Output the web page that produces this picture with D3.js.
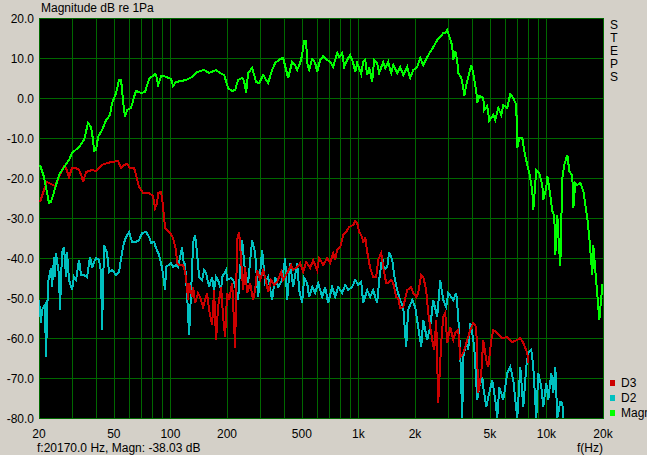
<!DOCTYPE html>
<html>
<head>
<meta charset="utf-8">
<script src="https://cdn.jsdelivr.net/npm/d3@7"></script>
<style>
  body { margin: 0; background: #d4d0c8; }
  svg { display: block; font-family: "Liberation Sans", Arial, sans-serif; font-size: 12px; }
</style>
</head>
<body>
<svg id="svg1" width="647" height="455"></svg>
<script>
var magnFreq = [20.25,21.26,22.61,23.17,24.04,25.56,27.17,28.89,29.97,32.66,34.72,36.46,37.84,38.77,39.25,40.22,41.22,43.29,45.46,47.75,48.93,51.39,53.32,54.64,55.31,56.68,57.38,58.81,61.76,64.07,65.66,69.82,73.32,77.01,82.88,83.9,85.98,89.21,92.54,100.8,103.3,107.2,114,121.2,130.4,138.6,151.1,160.6,175,183.8,193.1,202.8,213,220.9,229.2,240.7,246.6,252.8,259,272.1,285.8,296.5,311.4,331,347.6,360.6,383.5,397.8,412.7,422.9,444.2,460.8,472.3,490,502.1,514.5,527.3,533.8,547.1,567.6,588.8,603.4,626,649.4,682,707.7,734.2,771,790.2,819.8,840.1,871.5,904.2,938,961.3,985.1,1035,1061,1087,1114,1141,1184,1213,1258,1290,1355,1388,1440,1494,1531,1608,1668,1731,1818,1886,1957,2055,2132,2212,2323,2410,2501,2626,2724,2826,2896,2968,3042,3156,3195,3274,3355,3396,3524,3612,3656,3747,3887,3983,4082,4235,4287,4394,4615,4671,4846,4967,5216,5345,5546,5753,5896,6192,6424,6665,6914,6999,7174,7442,7627,7912,8109,8412,8516,8835,9166,9509,9626,9986,10109,10361,10749,11015,11151,11427,11568,11856,12150,12451,12917,13239,13734,13904,14248,14601,15149,15716,16105,16505,16916,17549,17765,18205,18657,19122,19837,20000];
var magnDb = [-16.75,-19.75,-26.25,-26,-23.5,-19.25,-17.25,-15.5,-13.75,-12.25,-10.5,-6.25,-7.25,-10.5,-13.25,-13,-9.75,-8,-5.5,-4.25,-1.25,1.25,4.5,4.5,2,-3,-4.75,-3,-2.5,0.25,1.75,1.25,1.5,4.75,6,5.75,3.25,5.5,5.5,4.75,3,4,4.25,4.5,5.25,6.5,7,6.25,7,6.25,5.75,2.5,1.75,2,4.5,5,4.25,1.25,6.25,7.5,4,3.75,5.75,3.75,7,8.75,9.75,10,7,5,9,8.25,7,8.75,10.75,14.25,14.25,8.75,7,9.75,8.75,6.5,9.5,10.5,9.5,9,7.75,11.25,10.25,11.25,7.75,9.5,10.75,8.75,6.5,8.75,6,9,9.5,5.75,7.75,4,9.5,8.75,6.25,9,7.5,9,6.25,8.25,6.25,7.75,5.75,7.75,5,7,7.75,10,8.25,10.25,11.5,12.75,14.5,15.25,16.25,16.25,17,15.5,13,9.5,11.75,9.5,6.25,5,2.5,0.5,3.25,6.25,8.25,6.25,1.75,-1.25,0.5,0,-3,-2,-5.75,-4.25,-5.5,-2.5,-4.25,-1.75,-2.5,1,0,-1.75,-12.5,-10,-10,-13.25,-16.75,-18.75,-23.25,-28,-18,-18.75,-21.75,-25.5,-22.5,-19.5,-22.5,-28.25,-29.5,-39.25,-29.25,-34.25,-42,-20,-16.75,-14.25,-18.25,-19.5,-27.5,-21.25,-21.75,-21.25,-23.25,-26.75,-30,-35,-44.25,-36.75,-43.25,-49.25,-55.5,-46.75,-46.75];

var d3Freq = [20.25,21.26,22.06,23.17,24.33,27.17,27.85,28.89,29.97,31.48,32.66,33.88,34.3,35.58,38.3,40.22,41.73,43.29,46.02,48.93,52.67,54.64,56.68,58.81,61.01,64.07,65.66,68.13,71.55,77.01,80.88,82.88,84.93,85.98,89.21,90.31,91.42,92.54,93.68,99.61,103.3,107.2,108.5,111.2,116.8,119.7,122.6,124.2,125.7,130.4,132,135.3,140.3,143.8,149.2,156.7,160.6,166.6,170.7,175,179.3,186.1,190.7,195.4,200.3,205.3,213,215.6,220.9,226.4,232,237.8,243.6,249.7,255.9,265.5,275.5,282.3,289.3,300.1,311.4,319.1,331,343.4,356.2,369.6,388.2,397.8,417.8,438.8,449.7,472.3,490,508.3,527.3,553.8,574.6,603.4,618.4,649.4,682,707.7,734.2,752.4,771,799.9,829.9,860.9,893.2,938,961.3,985.1,1010,1048,1061,1087,1114,1155,1198,1243,1274,1322,1355,1405,1440,1494,1531,1588,1628,1668,1731,1818,1909,1957,2030,2080,2158,2212,2294,2351,2410,2470,2531,2594,2658,2758,2826,2896,2968,3079,3195,3274,3396,3481,3612,3793,3935,4082,4235,4340,4503,4615,4787,4906,5090,5216,5478,5824,6192,6583,6999,7262,7534,7912,8010];
var d3Db = [-26,-23,-21,-21.5,-22,-17,-17.5,-19.75,-17.5,-17.5,-18,-19.75,-21,-18.5,-18,-18.25,-17.5,-16.75,-16.25,-16,-15.75,-17.5,-16.75,-16.5,-17.5,-17.5,-19.25,-22.25,-23.75,-23.75,-24.5,-27.5,-26.25,-23.75,-23.5,-25,-27.25,-30,-32.5,-33.75,-35,-38,-41.25,-41.75,-41.75,-43.5,-47.25,-50.5,-46.25,-49.75,-47.25,-51.25,-48.75,-49.75,-52.25,-48.75,-53,-56.75,-48,-60.5,-52.25,-47.25,-54.75,-59.75,-48.75,-50.5,-46.25,-51.25,-62.5,-35.5,-33.5,-40.5,-48,-42.25,-48.75,-46.25,-50.5,-48,-43,-45.5,-43,-44.75,-48.5,-45.5,-46.75,-46,-43.5,-45.5,-43.75,-41.75,-43,-42.25,-41.25,-43.5,-41,-42.5,-40.5,-43,-40,-41.75,-40,-41.25,-38.75,-40.5,-38,-37.25,-34.25,-33.5,-32.25,-31.75,-30.75,-31.25,-33.5,-34.75,-36.25,-34.75,-38.5,-42.5,-44.75,-44.75,-40.5,-38.75,-42.25,-46.25,-46.25,-45.5,-46.25,-49.75,-50,-52.5,-52.25,-48,-47.25,-48.75,-49.75,-48.75,-44.25,-44.75,-48,-53.75,-57.25,-60.5,-63,-55.5,-76.25,-61.25,-54.75,-53.75,-61.25,-57.25,-60.5,-58.75,-58,-64.75,-63.75,-60.5,-58,-56.25,-57.25,-73.75,-68.75,-60.5,-65.5,-67.25,-60.5,-58,-58.75,-60,-59.75,-61,-60.5,-60,-61.25,-63.75,-66.25];

var d2Freq = [20,20.5,20.75,21.52,21.79,22.33,23.17,23.46,24.04,24.33,24.63,25.56,25.87,26.52,27.17,27.85,28.19,28.89,29.97,30.71,31.48,32.66,33.47,34.72,36.02,37.37,38.3,39.25,40.22,41.73,42.76,43.29,44.36,46.02,47.17,48.93,51.39,53.32,55.31,56.68,58.09,60.27,62.52,65.66,68.13,70.68,74.23,77.01,78.92,81.87,83.9,87.05,90.31,92.54,93.68,94.84,100.8,103.3,107.2,109.9,115.4,116.8,119.7,122.6,125.7,130.4,132,135.3,138.6,142.1,147.4,151.1,154.8,160.6,166.6,170.7,175,179.3,186.1,188.4,197.9,200.3,210.4,218.3,223.7,229.2,240.7,249.7,259,272.1,282.3,292.9,307.6,319.1,331,347.6,360.6,374.1,393,407.7,417.8,433.5,449.7,472.3,484,502.1,514.5,533.8,547.1,567.6,588.8,610.8,641.5,665.5,690.4,725.2,752.4,780.6,819.8,850.4,882.3,926.6,961.3,997.3,1035,1061,1114,1155,1198,1258,1290,1338,1371,1423,1458,1513,1550,1608,1668,1731,1795,1840,1933,2005,2080,2158,2212,2323,2410,2501,2626,2724,2826,2932,3004,3117,3195,3314,3396,3481,3568,3612,3747,3840,3935,4032,4132,4287,4394,4558,4615,4787,4906,5153,5345,5478,5614,5896,6042,6192,6424,6665,6830,6999,7262,7534,7816,8010,8310,8516,8835,9054,9393,9626,9986,10234,10618,10881,11151,11427,11856,12150,12300];
var d2Db = [-50.5,-56.25,-53,-51.75,-64.75,-46.25,-42.5,-47.25,-39.75,-44.75,-38.75,-44.25,-53,-38.5,-37.25,-44.75,-38.5,-45.5,-48,-44.75,-45.5,-40.5,-44.25,-44.25,-44.75,-39.75,-42.5,-41,-40,-40.5,-43.5,-58,-36.75,-38.75,-43.5,-43,-44.25,-43.5,-38.5,-36.25,-34.75,-33.5,-36,-36,-35.5,-33.75,-33.5,-34.75,-36.25,-36,-37.5,-39.25,-42.5,-46,-48,-42.25,-41.25,-42.25,-41.75,-42.25,-37.25,-40.5,-41.75,-48.75,-59.25,-43,-36.25,-34.25,-38.75,-44.75,-45.5,-43,-43.75,-47.25,-44.75,-48,-44.75,-45.5,-48,-44.75,-43,-45.5,-45,-46,-48,-50.5,-35.5,-43.75,-46.25,-35.5,-38.75,-49.75,-38,-46.25,-44.75,-50.5,-44.75,-47.25,-45.5,-40,-50.5,-41.25,-47.25,-41.25,-48,-51.25,-45,-46.25,-49.75,-47.25,-48.75,-46.25,-49.75,-47.25,-51.25,-47.25,-49.75,-47.25,-48.75,-46.75,-48,-47.25,-45.5,-46.75,-46,-51.25,-48,-49.75,-48,-51.25,-45.5,-39.75,-43,-42.25,-38.5,-40.5,-44.25,-48,-50.5,-52.25,-62.25,-53,-50.5,-52.25,-57.25,-62.25,-55.5,-60.5,-57.25,-50.5,-54.75,-45.5,-50.5,-52.25,-48.75,-49.75,-50.5,-48.75,-54.75,-63.75,-80,-64.75,-61.25,-63,-56.25,-58.75,-62.25,-75.5,-72.25,-69.75,-72.25,-77.25,-74.75,-70.5,-75.5,-80,-72.25,-75.5,-72.25,-68.75,-67.25,-70.5,-75.5,-80,-67.25,-77.25,-67.25,-63.75,-63,-67.25,-80,-68.75,-72.25,-77.25,-71.25,-75.5,-68.75,-73.75,-67.25,-80,-76,-76.25,-80];

var xTicks = [20, 50, 100, 200, 500, 1000, 2000, 5000, 10000, 20000];
var xTickLabels = ["20", "50", "100", "200", "500", "1k", "2k", "5k", "10k", "20k"];
var yTicks = [20, 10, 0, -10, -20, -30, -40, -50, -60, -70, -80];
var legendNames = ["D3", "D2", "Magn"];
var legendColors = ["#cc0000", "#00c0c0", "#00ff00"];

var svg = d3.select("#svg1");

var plotLeft = 39, plotRight = 603, plotTop = 18, plotBottom = 418;

var scaleX = d3.scaleLog().domain([20, 20000]).range([plotLeft, plotRight]);
var scaleY = d3.scaleLinear().domain([-80, 20]).range([plotBottom, plotTop]);

// plot background
svg.append("rect")
    .attr("x", plotLeft).attr("y", plotTop)
    .attr("width", plotRight - plotLeft + 1).attr("height", plotBottom - plotTop + 1)
    .attr("fill", "#000");

// grid lines: 1..9 per decade for x, every 10 dB for y
var gridFreqs = [];
[10, 100, 1000, 10000].forEach(function(dec) {
  for (var k = 1; k < 10; k++) {
    var f = dec * k;
    if (f >= 20 && f <= 20000) gridFreqs.push(f);
  }
});
gridFreqs.push(20000);

var grid = svg.append("g").attr("shape-rendering", "crispEdges");
grid.selectAll(".vgrid")
    .data(gridFreqs)
    .enter()
    .append("line")
      .attr("x1", function(d) { return Math.round(scaleX(d)) + 0.5; })
      .attr("x2", function(d) { return Math.round(scaleX(d)) + 0.5; })
      .attr("y1", plotTop).attr("y2", plotBottom + 1)
      .attr("stroke", "#006800");
grid.selectAll(".hgrid")
    .data(yTicks)
    .enter()
    .append("line")
      .attr("y1", function(d) { return Math.round(scaleY(d)) + 0.5; })
      .attr("y2", function(d) { return Math.round(scaleY(d)) + 0.5; })
      .attr("x1", plotLeft).attr("x2", plotRight + 1)
      .attr("stroke", "#006800");

svg.append("clipPath").attr("id", "plotclip")
  .append("rect")
    .attr("x", plotLeft).attr("y", plotTop)
    .attr("width", plotRight - plotLeft + 1).attr("height", plotBottom - plotTop + 1);

var line = d3.line()
    .x(function(d) { return scaleX(d[0]); })
    .y(function(d) { return scaleY(d[1]); });

var series = [
  { freq: d2Freq, db: d2Db, color: legendColors[1] },
  { freq: d3Freq, db: d3Db, color: legendColors[0] },
  { freq: magnFreq, db: magnDb, color: legendColors[2] }
];

svg.append("g")
    .attr("clip-path", "url(#plotclip)")
  .selectAll(".curve")
    .data(series)
    .enter()
    .append("path")
      .attr("class", "curve")
      .attr("d", function(s) { return line(s.freq.map(function(f, i) { return [f, s.db[i]]; })); })
      .attr("fill", "none")
      .attr("stroke", function(s) { return s.color; })
      .attr("stroke-width", 2)
      .attr("stroke-linejoin", "miter")
      .attr("shape-rendering", "crispEdges");

// y axis labels
svg.selectAll(".ylab")
    .data(yTicks)
    .enter()
    .append("text")
      .attr("x", 34)
      .attr("y", function(d) { return scaleY(d) + 4.5; })
      .attr("text-anchor", "end")
      .attr("fill", "#000")
      .text(function(d) { return d.toFixed(1); });

// x axis labels
svg.selectAll(".xlab")
    .data(xTicks)
    .enter()
    .append("text")
      .attr("x", function(d) { return scaleX(d); })
      .attr("y", 438)
      .attr("text-anchor", "middle")
      .attr("fill", "#000")
      .text(function(d, i) { return xTickLabels[i]; });

svg.append("text").attr("x", 41).attr("y", 12).text("Magnitude dB re 1Pa");
svg.append("text").attr("x", 603).attr("y", 452).attr("text-anchor", "end").text("f(Hz)");
svg.append("text").attr("x", 37).attr("y", 452).text("f:20170.0 Hz, Magn: -38.03 dB");

// vertical STEPS label
svg.selectAll(".steps")
    .data("STEPS".split(""))
    .enter()
    .append("text")
      .attr("x", 614)
      .attr("y", function(d, i) { return 29 + i * 13; })
      .attr("text-anchor", "middle")
      .text(function(d) { return d; });

// legend
var legend = svg.selectAll(".legend")
    .data(legendNames)
    .enter()
    .append("g")
      .attr("transform", function(d, i) { return "translate(610," + (380 + i * 15) + ")"; });
legend.append("rect")
    .attr("width", 5).attr("height", 6)
    .attr("fill", function(d, i) { return legendColors[i]; });
legend.append("text")
    .attr("x", 11).attr("y", 7)
    .text(function(d) { return d; });
</script>
</body>
</html>
